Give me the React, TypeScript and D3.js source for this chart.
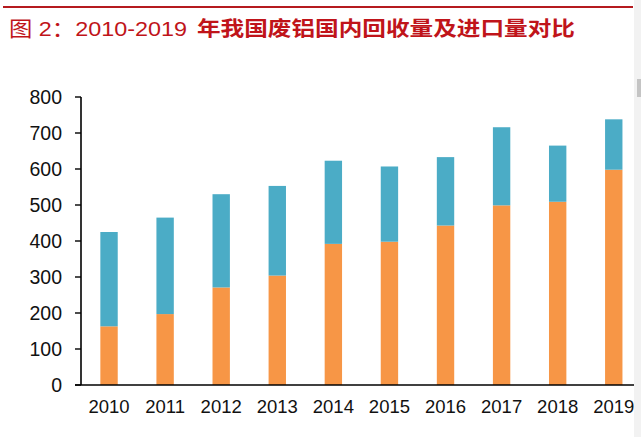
import * as d3 from "d3";

// 废铝国内回收量 / 进口量（万吨），读自原图
const years = ["2010", "2011", "2012", "2013", "2014", "2015", "2016", "2017", "2018", "2019"];
const domestic = [163, 197, 271, 304, 392, 398, 443, 499, 509, 598];
const imports = [262, 268, 259, 249, 231, 209, 190, 217, 156, 140];
const yTicks = [0, 100, 200, 300, 400, 500, 600, 700, 800];

const W = 641;
const H = 437;
const colors = { domestic: "#F79646", imports: "#4BACC6" };
const fontLatin = "'Liberation Sans', Arial, 'Noto Sans CJK SC', sans-serif";

export default function App() {
  const rows = years.map((y, i) => ({ year: y, domestic: domestic[i], imports: imports[i] }));
  const series = d3.stack<any>().keys(["domestic", "imports"])(rows);

  const x = d3
    .scaleBand()
    .domain(years)
    .range([81, 641.8])
    .paddingInner(0.69)
    .paddingOuter(0.345);
  const y = d3.scaleLinear().domain([0, 800]).range([385, 97]);

  return (
    <svg
      width={W}
      height={H}
      style={{ position: "absolute", left: 0, top: 0, background: "#fff" }}
    >
      {/* 标题 */}
      <rect x={3} y={6} width={630} height={2} fill="#B51A1F" />
      <text
        x={9}
        y={36}
        fontSize={21}
        fill="#C0141A"
        fontFamily={fontLatin}
        textLength={178}
        lengthAdjust="spacingAndGlyphs"
      >
        图 2：2010-2019
      </text>
      <text
        x={197}
        y={36}
        fontSize={20}
        fontWeight="bold"
        fill="#C0141A"
        fontFamily="'Noto Sans CJK SC', sans-serif"
        textLength={378}
        lengthAdjust="spacingAndGlyphs"
      >
        年我国废铝国内回收量及进口量对比
      </text>

      {/* 堆积柱 */}
      {series.map((s) => (
        <g key={s.key} fill={(colors as any)[s.key]}>
          {s.map((d, i) => (
            <rect
              key={years[i]}
              x={x(years[i])}
              y={y(d[1])}
              width={x.bandwidth()}
              height={y(d[0]) - y(d[1])}
            />
          ))}
        </g>
      ))}

      {/* Y 轴 */}
      <line x1={81} x2={81} y1={y(800)} y2={y(0)} stroke="#000" strokeWidth={1.6} />
      {yTicks.map((t) => (
        <g key={t}>
          <line x1={75} x2={81} y1={y(t)} y2={y(t)} stroke="#000" strokeWidth={1.4} />
          <text
            x={62}
            y={y(t)}
            dy="0.36em"
            textAnchor="end"
            fontSize={19.5}
            fontFamily={fontLatin}
            fill="#111"
          >
            {t}
          </text>
        </g>
      ))}

      {/* X 轴 */}
      <line x1={75} x2={634} y1={y(0)} y2={y(0)} stroke="#000" strokeWidth={1.6} />
      {years.map((yr) => (
        <text
          key={yr}
          x={(x(yr) || 0) + x.bandwidth() / 2}
          y={413}
          textAnchor="middle"
          fontSize={18.5}
          fontFamily={fontLatin}
          fill="#111"
        >
          {yr}
        </text>
      ))}

      {/* 右侧滚动条 */}
      <rect x={634} y={0} width={7} height={H} fill="#F2F2F2" />
      <rect x={637} y={79} width={4} height={18} fill="#C4C4C4" />
    </svg>
  );
}
